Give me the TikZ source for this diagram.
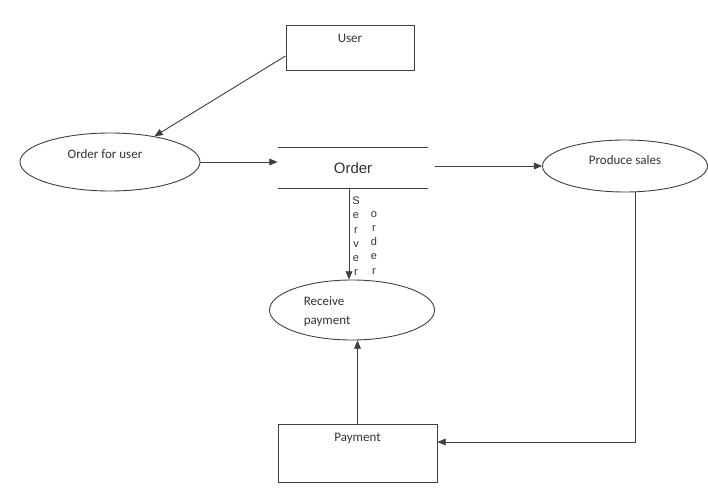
\documentclass[tikz,border=0pt]{standalone}
\usepackage{fontspec}
\setmainfont{Carlito}
\newfontfamily\arialfont{Liberation Sans}
\usetikzlibrary{arrows, shapes.geometric}

\begin{document}
\begin{tikzpicture}[->,>=triangle 45,x=1pt,y=-1pt,
 line width=0.9pt,draw=black!75,
 proc node/.style={ellipse,draw,minimum width=#1,minimum height=58pt,inner sep=0pt},
 ent node/.style={rectangle,draw,minimum width=#1,inner sep=0pt},
 every node/.style={text=black!80,font=\fontsize{13}{15}\selectfont}]
\useasboundingbox[fill=white] (0,0) rectangle (708,489);

\node[ent node=128pt,minimum height=45pt](U) at (350,48) {};
 \node[anchor=north] at (U.north) [yshift=-5pt]{User};
\node[proc node=180pt](OU) at (110,162) {};
 \node at (OU.center) [xshift=-5pt,yshift=8pt]{Order for user};
\node[minimum width=150pt,minimum height=40pt,inner sep=0pt,
 font=\arialfont\fontsize{15}{17}\selectfont](S) at (353,168) {Order};
\node[proc node=165pt,minimum height=52pt](PS) at (625,166) {};
 \node at (PS.center) [yshift=6pt]{Produce sales};
\node[proc node=165pt,minimum height=60pt](RP) at (352,310) {};
 \node[align=left,anchor=west,font=\fontsize{13}{19}\selectfont] at (RP.center)
  [xshift=-52pt,yshift=-2pt]{Receive\\payment};
\node[ent node=159pt,minimum height=58pt](P) at (357.5,453) {};
 \node[anchor=north] at (P.north) [yshift=-6pt]{Payment};

% data store lines
\draw[-] (S.north west) -- (S.north east);
\draw[-] (S.south west) -- (S.south east);

% flows
\draw (U.187) -- (OU.30);
\draw (OU.east) -- (OU.east -| S.west);
\draw ([xshift=7pt]S.east |- PS.west) -- (PS.west);
\draw ([xshift=-4pt]S.south) -- ([xshift=-4pt]S.south |- RP.north);
\draw (P.north) -- (P.north |- RP.south);
\draw ([xshift=10pt]PS.south) |- ([yshift=11pt]P.east);

\node[font=\arialfont\fontsize{11}{14.3}\selectfont,align=center,anchor=north]
 (L1) at (356,193) {S\\e\\r\\v\\e\\r};
\node[font=\arialfont\fontsize{11}{14.3}\selectfont,align=center,anchor=north]
 (L2) at (374,207.3) {o\\r\\d\\e\\r};
\end{tikzpicture}
\end{document}
